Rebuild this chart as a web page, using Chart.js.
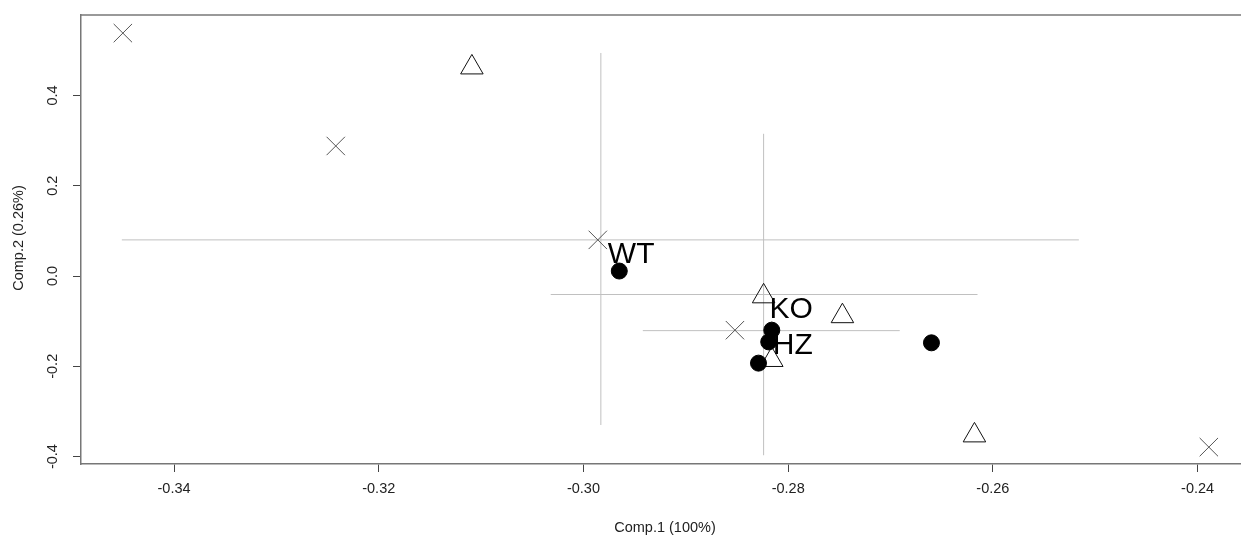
<!DOCTYPE html>
<html>
<head>
<meta charset="utf-8">
<script src="https://cdn.jsdelivr.net/npm/chart.js@4"></script>
<style>
  html, body { margin: 0; padding: 0; background: #fff; overflow: hidden; }
  #wrap { width: 1241px; height: 535px; overflow: hidden; }
</style>
</head>
<body>
<div id="wrap"><canvas id="pca" width="1260" height="535"></canvas></div>
<script>
const pca = document.getElementById('pca').getContext('2d');

// samples, by marker type
let crossX = [-0.3450, -0.3242, -0.2986, -0.2852, -0.2389];
let crossY = [0.538, 0.288, 0.080, -0.120, -0.379];
let triX = [-0.3109, -0.2824, -0.2747, -0.2816, -0.2618];
let triY = [0.462, -0.045, -0.089, -0.186, -0.353];
let dotX = [-0.2965, -0.2816, -0.2819, -0.2829, -0.2660];
let dotY = [0.011, -0.120, -0.146, -0.193, -0.148];

// group centroids and spread
let groups = ['WT', 'KO', 'HZ'];
let groupX = [-0.2983, -0.2824, -0.2816];
let groupY = [0.080, -0.041, -0.121];
let spreadXlo = [-0.3451, -0.3032, -0.2942];
let spreadXhi = [-0.2516, -0.2615, -0.2691];
let spreadYlo = [-0.330, -0.397, -0.145];
let spreadYhi = [0.494, 0.315, -0.100];

let xTicks = [-0.34, -0.32, -0.30, -0.28, -0.26, -0.24];
let yTicks = [-0.4, -0.2, 0.0, 0.2, 0.4];

const toPts = (xs, ys) => xs.map((x, i) => ({ x: x, y: ys[i] }));

let barSets = [];
groups.forEach((g, i) => {
    barSets.push({
        data: [{ x: spreadXlo[i], y: groupY[i] }, { x: spreadXhi[i], y: groupY[i] }],
        showLine: true, pointRadius: 0, borderColor: '#c0c0c0', borderWidth: 1, order: 5
    });
    barSets.push({
        data: [{ x: groupX[i], y: spreadYlo[i] }, { x: groupX[i], y: spreadYhi[i] }],
        showLine: true, pointRadius: 0, borderColor: '#c0c0c0', borderWidth: 1, order: 5
    });
});

const fontFam = '"Liberation Sans", Arial, sans-serif';

// box top line, rotated y tick labels, axis titles, group labels
const extras = {
    id: 'extras',
    afterDraw(chart) {
        const c = chart.ctx, a = chart.chartArea;
        const xs = chart.scales.x, ys = chart.scales.y;
        c.save();
        c.strokeStyle = '#777';
        c.lineWidth = 1.5;
        c.beginPath();
        c.moveTo(a.left, a.top);
        c.lineTo(a.right + 20, a.top);
        c.stroke();

        c.fillStyle = '#222';
        c.font = '14.5px ' + fontFam;
        c.textAlign = 'center';
        c.textBaseline = 'middle';
        yTicks.forEach(v => {
            c.save();
            c.translate(53, ys.getPixelForValue(v));
            c.rotate(-Math.PI / 2);
            c.fillText(v.toFixed(1), 0, 0);
            c.restore();
        });

        c.fillText('Comp.1 (100%)', 665, 528);
        c.save();
        c.translate(19, 238);
        c.rotate(-Math.PI / 2);
        c.fillText('Comp.2 (0.26%)', 0, 0);
        c.restore();

        c.fillStyle = '#000';
        c.font = '30px ' + fontFam;
        c.textAlign = 'left';
        c.textBaseline = 'alphabetic';
        const off = [[7, 23], [6, 23], [1, 23]];
        groups.forEach((g, i) => {
            c.fillText(g, xs.getPixelForValue(groupX[i]) + off[i][0],
                       ys.getPixelForValue(groupY[i]) + off[i][1]);
        });
        c.restore();
    }
};

new Chart(pca, {
    type: 'scatter',
    data: {
        datasets: [
            {
                data: toPts(dotX, dotY),
                pointStyle: 'circle', pointRadius: 8,
                backgroundColor: '#000', borderColor: '#000', borderWidth: 1, order: 1
            },
            {
                data: toPts(triX, triY),
                pointStyle: 'triangle', pointRadius: 13,
                backgroundColor: 'rgba(255,255,255,0)', borderColor: '#111', borderWidth: 1, order: 2
            },
            {
                data: toPts(crossX, crossY),
                pointStyle: 'crossRot', pointRadius: 13,
                borderColor: '#555', borderWidth: 1, order: 3
            },
            ...barSets
        ]
    },
    options: {
        responsive: false,
        devicePixelRatio: 1,
        animation: false,
        layout: { padding: { left: 0, top: 15, right: 5, bottom: 0 } },
        scales: {
            x: {
                type: 'linear',
                min: -0.34909,
                max: -0.23527,
                afterBuildTicks: s => { s.ticks = xTicks.map(v => ({ value: v })); },
                afterFit: s => { s.height = 71; },
                border: { display: true, color: '#777', width: 1.5 },
                grid: { drawOnChartArea: false, drawTicks: true, tickLength: 8, tickColor: '#444' },
                ticks: {
                    padding: 8,
                    color: '#222',
                    font: { size: 14.5, family: fontFam },
                    maxRotation: 0,
                    callback: v => v.toFixed(2)
                }
            },
            y: {
                type: 'linear',
                min: -0.4164,
                max: 0.5781,
                afterBuildTicks: s => { s.ticks = yTicks.map(v => ({ value: v })); },
                afterFit: s => { s.width = 81; },
                border: { display: true, color: '#777', width: 1.5 },
                grid: { drawOnChartArea: false, drawTicks: true, tickLength: 8, tickColor: '#444' },
                ticks: { display: false }
            }
        },
        plugins: {
            legend: { display: false },
            tooltip: { enabled: false }
        }
    },
    plugins: [extras]
});
</script>
</body>
</html>
